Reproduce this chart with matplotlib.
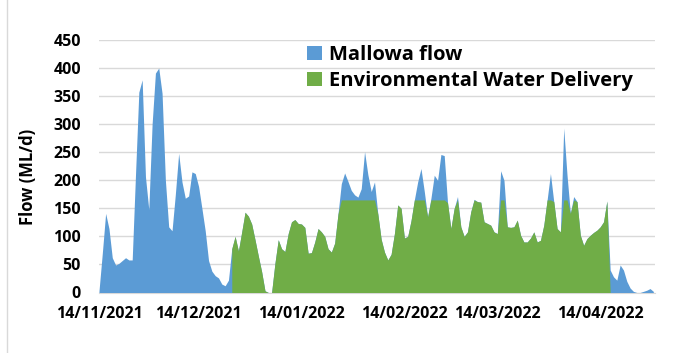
import matplotlib
matplotlib.use("Agg")
import matplotlib.pyplot as plt
from matplotlib.patches import Patch
from matplotlib.lines import Line2D
import pandas as pd

plt.rcParams['font.family'] = ['Open Sans', 'DejaVu Sans']

# Daily Mallowa flow (ML/d) from 14/11/2021
start_date = "2021-11-14"
mallowa_flow = [
    3, 70, 141, 114, 62, 49, 52, 57, 62, 58,
    58, 210, 357, 379, 206, 148, 300, 391, 400, 355,
    200, 117, 110, 175, 248, 197, 168, 172, 215, 212,
    189, 150, 110, 57, 38, 30, 26, 15, 12, 22,
    78, 100, 74, 108, 143, 136, 122, 94, 65, 37,
    3, 0, 0, 52, 94, 78, 73, 105, 126, 130,
    123, 122, 116, 70, 71, 90, 114, 108, 100, 78,
    72, 88, 140, 194, 213, 198, 182, 174, 170, 185,
    251, 210, 180, 197, 140, 95, 72, 58, 68, 105,
    156, 150, 97, 100, 128, 165, 197, 221, 180, 135,
    168, 209, 200, 246, 244, 160, 114, 150, 171, 117,
    100, 108, 144, 166, 162, 161, 126, 123, 120, 108,
    105, 217, 200, 117, 116, 117, 129, 102, 90, 90,
    97, 108, 90, 93, 120, 165, 212, 162, 114, 108,
    293, 209, 141, 171, 162, 102, 84, 96, 102, 107,
    111, 117, 126, 163, 40, 28, 22, 49, 40, 20,
    8, 2, 0, 0, 2, 4, 7, 2,
]

# Environmental water delivery (ML/d) from 24/12/2021
delivery_start = "2021-12-24"
env_delivery = [
    78, 100, 74, 108, 143, 136, 122, 94, 65, 37,
    3, 0, 0, 52, 94, 78, 73, 105, 126, 130,
    123, 122, 116, 70, 71, 90, 114, 108, 100, 78,
    72, 88, 140, 165, 165, 165, 165, 165, 165, 165,
    165, 165, 165, 165, 140, 95, 72, 58, 68, 105,
    156, 150, 97, 100, 128, 165, 165, 165, 165, 135,
    165, 165, 165, 165, 165, 160, 114, 150, 165, 117,
    100, 108, 144, 165, 162, 161, 126, 123, 120, 108,
    105, 165, 165, 117, 116, 117, 129, 102, 90, 90,
    97, 108, 90, 93, 120, 165, 165, 162, 114, 108,
    165, 165, 141, 165, 162, 102, 84, 96, 102, 107,
    111, 117, 126, 163, 0,
]

tick_dates = ["2021-11-14", "2021-12-14", "2022-01-14",
              "2022-02-14", "2022-03-14", "2022-04-14"]
tick_labels = ["14/11/2021", "14/12/2021", "14/01/2022",
               "14/02/2022", "14/03/2022", "14/04/2022"]
y_ticks = [0, 50, 100, 150, 200, 250, 300, 350, 400, 450]

series_names = ["Mallowa flow", "Environmental Water Delivery"]
blue = "#5B9BD5"
green = "#70AD47"
grid_color = "#D9D9D9"

flow_dates = pd.date_range(start_date, periods=len(mallowa_flow), freq="D")
env_dates = pd.date_range(delivery_start, periods=len(env_delivery), freq="D")

W, H = 694, 353
fig = plt.figure(figsize=(W / 100, H / 100), dpi=100)
ax_left, ax_right, ax_top, ax_bottom = 99, 655, 40, 292.5
ax = fig.add_axes([ax_left / W, 1 - ax_bottom / H,
                   (ax_right - ax_left) / W, (ax_bottom - ax_top) / H])

ax.fill_between(flow_dates, mallowa_flow, 0, color=blue, lw=0, zorder=2)
ax.fill_between(env_dates, env_delivery, 0, color=green, lw=0, zorder=3)

ax.set_ylim(0, 450)
ax.set_yticks(y_ticks)
ax.set_yticklabels([str(v) for v in y_ticks])
ax.grid(axis="y", color=grid_color, lw=1.0, zorder=0)
ax.set_axisbelow(True)

x0 = pd.Timestamp(start_date)
ax.set_xlim(x0, x0 + pd.Timedelta(days=167.5))
ax.set_xticks(pd.to_datetime(tick_dates))
ax.set_xticklabels(tick_labels)

for s in ["top", "right", "left"]:
    ax.spines[s].set_visible(False)
ax.spines["bottom"].set_color(grid_color)
ax.spines["bottom"].set_zorder(1)

ax.tick_params(axis="both", length=0, labelsize=11.5)
ax.tick_params(axis="y", pad=13)
ax.tick_params(axis="x", pad=10)
for lab in ax.get_xticklabels() + ax.get_yticklabels():
    lab.set_fontweight("bold")

fig.text(28 / W, 1 - 177 / H, "Flow (ML/d)", rotation=90, fontsize=12,
         fontweight="bold", ha="center", va="center")

handles = [Patch(facecolor=blue, edgecolor="none"),
           Patch(facecolor=green, edgecolor="none")]
leg = ax.legend(handles, series_names, loc="upper left",
                bbox_to_anchor=(307 / W, 1 - 45 / H), bbox_transform=fig.transFigure,
                frameon=False, handlelength=0.72, handleheight=0.72,
                handletextpad=0.35, labelspacing=0.3,
                borderpad=0, borderaxespad=0,
                prop={"size": 14.5, "weight": "bold"})

# chart frame edge on the left
fig.add_artist(Line2D([6.5 / W, 6.5 / W], [0, 1], transform=fig.transFigure,
                      color=grid_color, lw=1))

fig.savefig("out.png", dpi=100, facecolor="white")
